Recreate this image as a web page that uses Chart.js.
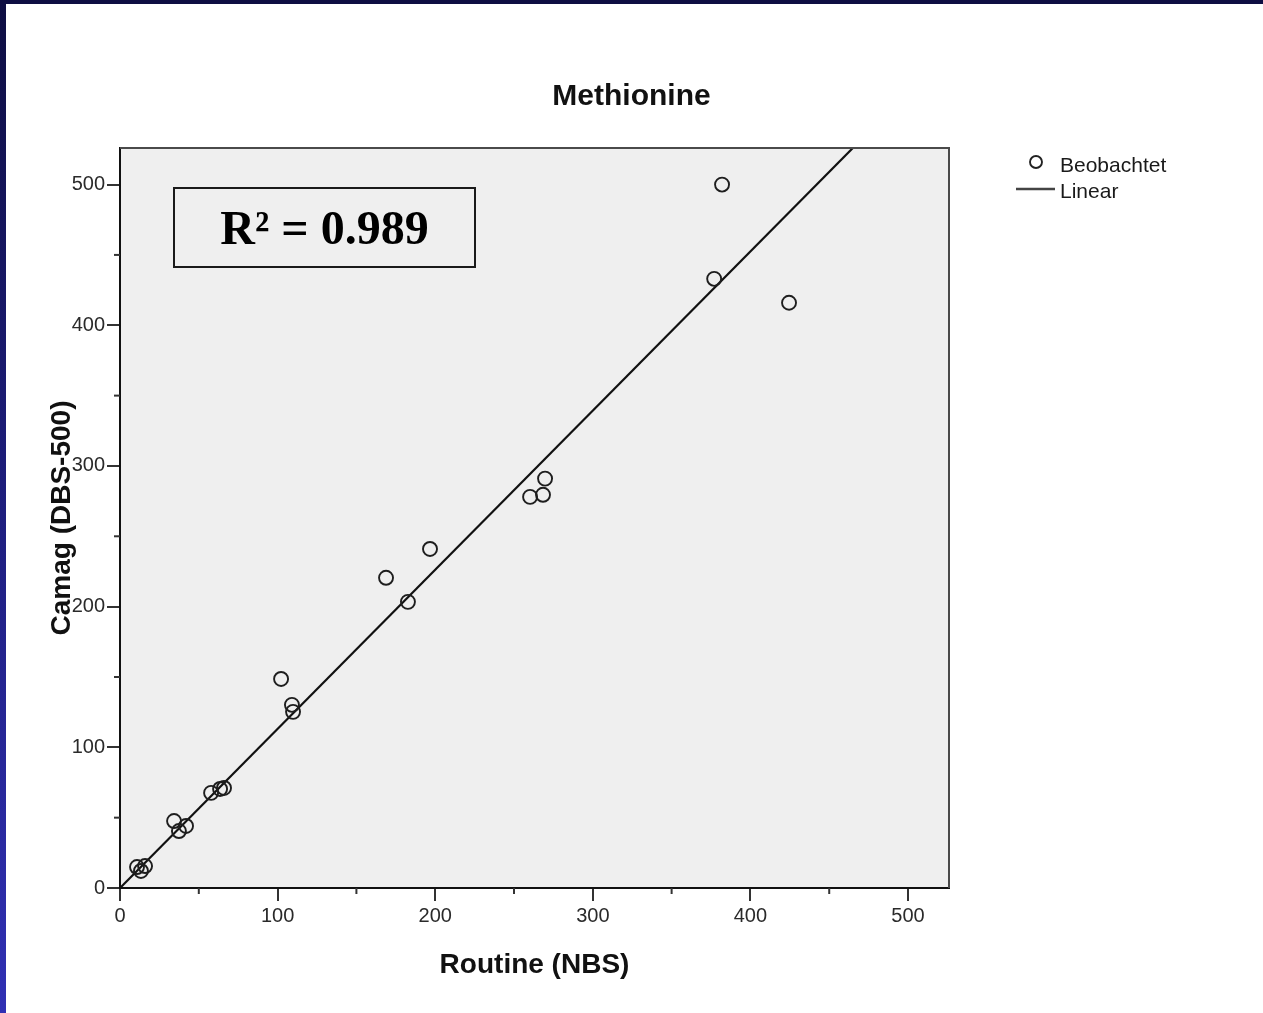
<!DOCTYPE html>
<html>
<head>
<meta charset="utf-8">
<script src="https://cdn.jsdelivr.net/npm/chart.js@4/dist/chart.umd.min.js"></script>
<style>
  html, body { margin: 0; padding: 0; background: #ffffff; }
  #wrap { position: relative; width: 1263px; height: 1013px; overflow: hidden; background: #ffffff; }
  #c { position: absolute; left: 0; top: 0; }
  #topband { position: absolute; left: 0; top: 0; width: 1263px; height: 4px; background: #0e0e42; }
  #leftband { position: absolute; left: 0; top: 0; width: 6px; height: 1013px;
              background: linear-gradient(to bottom, #0e0e42 0%, #1c1c78 45%, #3030b4 100%); }
</style>
</head>
<body>
<div id="wrap">
  <canvas id="c" width="1263" height="1013"></canvas>
  <div id="topband"></div>
  <div id="leftband"></div>
</div>
<script>
// ---- data ----
const chartTitle = 'Methionine';
const xTitle = 'Routine (NBS)';
const yTitle = 'Camag (DBS-500)';
const seriesNames = ['Beobachtet', 'Linear'];
const rSquaredLabel = 'R\u00B2 = 0.989';

// observed points: Routine (NBS) vs Camag (DBS-500)
const routineNBS = [382, 377, 424.5, 269.7, 268.4, 260.2, 196.7, 168.8, 182.7, 102.2, 109.1, 109.8,
                    57.8, 63.5, 66.0, 34.3, 37.4, 41.9, 10.8, 15.9, 13.3];
const camagDBS   = [500, 433, 416, 291, 279.5, 278, 241, 220.5, 203.4, 148.6, 130.2, 125.2,
                    67.6, 70.4, 71.1, 47.6, 40.5, 44.1, 14.9, 15.6, 12.1];

// fitted linear line (end points)
const fitX = [0, 465];
const fitY = [0, 526];

// axis ranges / ticks
const axisMin = 0;
const axisMax = 526;
const majorStep = 100;
const minorTicks = [50, 150, 250, 350, 450];

const FONT = "'Liberation Sans', Arial, Helvetica, sans-serif";

const observed = routineNBS.map((x, i) => ({ x: x, y: camagDBS[i] }));
const fitLine = fitX.map((x, i) => ({ x: x, y: fitY[i] }));

const decorPlugin = {
  id: 'decor',
  beforeDraw(chart) {
    const { ctx, chartArea: a } = chart;
    ctx.save();
    ctx.fillStyle = '#efefef';
    ctx.fillRect(a.left, a.top, a.right - a.left, a.bottom - a.top);
    ctx.restore();
  },
  afterDraw(chart) {
    const { ctx, chartArea: a } = chart;
    const xs = chart.scales.x, ys = chart.scales.y;
    ctx.save();
    // top & right frame
    ctx.strokeStyle = '#4a4a4a';
    ctx.lineWidth = 2;
    ctx.beginPath();
    ctx.moveTo(a.left, a.top);
    ctx.lineTo(a.right, a.top);
    ctx.lineTo(a.right, a.bottom);
    ctx.stroke();

    // minor ticks
    ctx.strokeStyle = '#333';
    ctx.lineWidth = 2;
    minorTicks.forEach(v => {
      const px = xs.getPixelForValue(v);
      ctx.beginPath(); ctx.moveTo(px, a.bottom); ctx.lineTo(px, a.bottom + 6); ctx.stroke();
      const py = ys.getPixelForValue(v);
      ctx.beginPath(); ctx.moveTo(a.left - 6, py); ctx.lineTo(a.left, py); ctx.stroke();
    });

    // R^2 box
    const bx = a.left + 54, by = a.top + 40, bw = 301, bh = 79;
    ctx.fillStyle = '#efefef';
    ctx.fillRect(bx, by, bw, bh);
    ctx.strokeStyle = '#1a1a1a';
    ctx.lineWidth = 2;
    ctx.strokeRect(bx, by, bw, bh);
    ctx.fillStyle = '#000';
    ctx.font = "bold 48px 'Liberation Serif', 'Times New Roman', serif";
    ctx.textAlign = 'center';
    ctx.textBaseline = 'alphabetic';
    ctx.fillText(rSquaredLabel, bx + bw / 2, by + 56);

    // title
    ctx.fillStyle = '#111';
    ctx.font = 'bold 30px ' + FONT;
    ctx.textAlign = 'center';
    ctx.fillText(chartTitle, (a.left + a.right) / 2 + 97, 105);

    // x title
    ctx.font = 'bold 28px ' + FONT;
    ctx.fillText(xTitle, (a.left + a.right) / 2, 973);

    // y title
    ctx.save();
    ctx.translate(70, (a.top + a.bottom) / 2);
    ctx.rotate(-Math.PI / 2);
    ctx.font = 'bold 28px ' + FONT;
    ctx.textAlign = 'center';
    ctx.fillText(yTitle, 0, 0);
    ctx.restore();

    // legend
    const lx = 1016;
    ctx.strokeStyle = '#222';
    ctx.lineWidth = 1.9;
    ctx.beginPath(); ctx.arc(lx + 20, 162, 6, 0, Math.PI * 2); ctx.stroke();
    ctx.strokeStyle = '#444';
    ctx.lineWidth = 2.5;
    ctx.beginPath(); ctx.moveTo(lx, 189); ctx.lineTo(lx + 39, 189); ctx.stroke();
    ctx.fillStyle = '#1a1a1a';
    ctx.font = '21px ' + FONT;
    ctx.textAlign = 'left';
    ctx.fillText(chart.data.datasets[0].label, lx + 44, 172);
    ctx.fillText(chart.data.datasets[1].label, lx + 44, 198);
    ctx.restore();
  }
};

new Chart(document.getElementById('c'), {
  type: 'scatter',
  data: {
    datasets: [
      {
        label: seriesNames[0],
        data: observed,
        pointStyle: 'circle',
        pointRadius: 7,
        pointBorderWidth: 1.9,
        borderColor: '#1e1e1e',
        backgroundColor: 'rgba(0,0,0,0)',
        order: 1
      },
      {
        type: 'line',
        label: seriesNames[1],
        data: fitLine,
        borderColor: '#111',
        borderWidth: 2.2,
        pointRadius: 0,
        fill: false,
        tension: 0,
        order: 2
      }
    ]
  },
  options: {
    responsive: false,
    animation: false,
    devicePixelRatio: 1,
    layout: { padding: { left: 72, right: 314, top: 148, bottom: 85 } },
    plugins: {
      legend: { display: false },
      title: { display: false },
      tooltip: { enabled: false }
    },
    scales: {
      x: {
        type: 'linear',
        min: axisMin,
        max: axisMax,
        afterFit: s => { s.height = 40; },
        border: { display: true, color: '#111', width: 2 },
        grid: { drawOnChartArea: false, drawTicks: true, tickLength: 13, color: '#333', lineWidth: 2 },
        ticks: { stepSize: majorStep, includeBounds: false, padding: 3, color: '#2a2a2a',
                 font: { family: FONT, size: 20 } }
      },
      y: {
        type: 'linear',
        min: axisMin,
        max: axisMax,
        afterFit: s => { s.width = 48; },
        border: { display: true, color: '#111', width: 2 },
        grid: { drawOnChartArea: false, drawTicks: true, tickLength: 13, color: '#333', lineWidth: 2 },
        ticks: { stepSize: majorStep, includeBounds: false, padding: 2, color: '#2a2a2a',
                 font: { family: FONT, size: 20 } }
      }
    }
  },
  plugins: [decorPlugin]
});
</script>
</body>
</html>
